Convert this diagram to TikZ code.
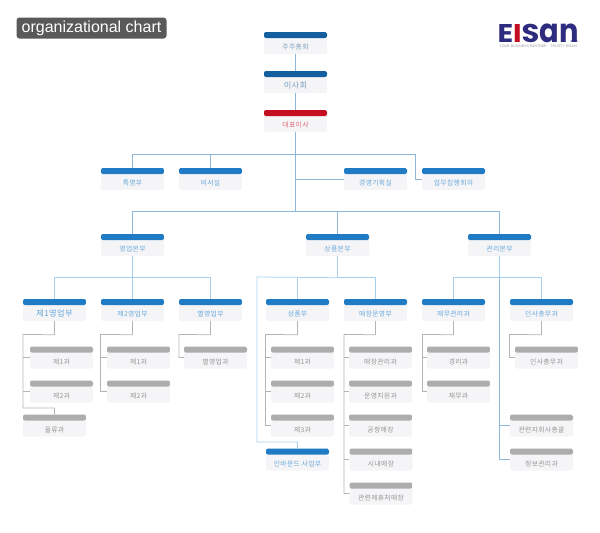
\documentclass[tikz,border=0pt]{standalone}
\usepackage{fontspec}
\setmainfont{Liberation Sans}
\newfontfamily\kr[LetterSpace=5]{Noto Sans CJK KR}
\newfontfamily\logofont{Poppins}
\usetikzlibrary{calc}
\definecolor{hblue}{HTML}{1F7CC4}
\definecolor{hdark}{HTML}{135E9F}
\definecolor{hred}{HTML}{C40F22}
\definecolor{hgrey}{HTML}{ADADAD}
\definecolor{bodyc}{HTML}{F5F5F7}
\definecolor{tblue}{HTML}{6AA8DA}
\definecolor{tdark}{HTML}{7A9FC0}
\definecolor{tred}{HTML}{E0687A}
\definecolor{tgrey}{HTML}{969696}
\definecolor{lblue}{HTML}{8DB6DA}
\definecolor{llight}{HTML}{A5CFEE}
\definecolor{lgrey}{HTML}{B4B4B4}
\definecolor{navy}{HTML}{2E2C7E}
\newcommand{\lift}[1]{\raisebox{-6.5pt}[0pt][0pt]{#1}}
\newcommand{\txs}{\fontsize{6.8}{7}\kr}
\newcommand{\txb}{\fontsize{8.2}{9}\kr}
\tikzset{
  x=1pt,y=-1pt,
  orgbox/.style={rounded corners=2pt,minimum width=63pt,minimum height=22pt,inner sep=0pt,fill=bodyc,draw=none,text=#1},
  headfill/.style={path picture={\fill[#1] (path picture bounding box.north west) rectangle ([yshift=-6pt]path picture bounding box.north east);}},
  bluebox/.style={orgbox=tblue,headfill=hblue},
  darkbox/.style={orgbox=tdark,headfill=hdark},
  redbox/.style={orgbox=tred,headfill=hred},
  greybox/.style={orgbox=tgrey,headfill=hgrey},
  linkA/.style={draw=lblue,line width=.75pt},
  linkB/.style={draw=llight,line width=.75pt},
  linkG/.style={draw=lgrey,line width=.75pt},
}
\begin{document}
\begin{tikzpicture}
\useasboundingbox (0,0) rectangle (600,533);
% title
\node[fill=black!65,rounded corners=3pt,minimum width=150pt,minimum height=21pt,inner sep=0pt,text=white,font=\fontsize{16}{17}\selectfont] (title) at (91.5,28) {organizational chart};
% logo
\node[inner sep=0pt,text=navy] (logo) at (538,33.3) {\resizebox{81pt}{18.6pt}{\logofont\bfseries E\textcolor{hred}{I}S\scalebox{1}[1.28]{an}}};
\node[inner sep=0pt,text=tgrey,font=\fontsize{3.6}{4}\selectfont] (tag) at (538,46.5) {YOUR BUSINESS PARTNER\quad TRUSTY EISAN};
\node[inner sep=0pt,text=navy,font=\fontsize{3.2}{3.5}\bfseries\selectfont] (year) at (574,41) {1995};
% top
\node[darkbox] (a1) at (295.5,43) {\lift{\txs 주주총회}};
\node[darkbox] (a2) at (295.5,82) {\lift{\txb 이사회}};
\node[redbox] (a3) at (295.5,121) {\lift{\txs 대표이사}};
\node[bluebox] (b1) at (132.5,179) {\lift{\txs 특명부}};
\node[bluebox] (b2) at (210.5,179) {\lift{\txs 비서실}};
\node[bluebox] (b3) at (375.5,179) {\lift{\txs 경영기획실}};
\node[bluebox] (b4) at (453.5,179) {\lift{\txs 업무집행회의}};
% divisions
\node[bluebox] (c1) at (132.5,245) {\lift{\txs 영업본부}};
\node[bluebox] (c2) at (337.5,245) {\lift{\txs 상품본부}};
\node[bluebox] (c3) at (499.5,245) {\lift{\txs 관리본부}};
% departments
\node[bluebox] (d1) at (54.5,310) {\lift{\txb 제1영업부}};
\node[bluebox] (d2) at (132.5,310) {\lift{\txs 제2영업부}};
\node[bluebox] (d3) at (210.5,310) {\lift{\txs 별영업부}};
\node[bluebox] (d4) at (297.5,310) {\lift{\txs 상품부}};
\node[bluebox] (d5) at (375.5,310) {\lift{\txs 매장운영부}};
\node[bluebox] (d6) at (453.5,310) {\lift{\txs 재무관리과}};
\node[bluebox] (d7) at (541.5,310) {\lift{\txs 인사총무과}};
\node[bluebox] (d8) at (297.5,459.5) {\lift{\txs 인바운드 사업부}};
% sections
\node[greybox] (e1) at (61.5,357.5) {\lift{\txs 제1과}};
\node[greybox] (e2) at (61.5,391.5) {\lift{\txs 제2과}};
\node[greybox] (e3) at (54.5,425.5) {\lift{\txs 물류과}};
\node[greybox] (f1) at (138.5,357.5) {\lift{\txs 제1과}};
\node[greybox] (f2) at (138.5,391.5) {\lift{\txs 제2과}};
\node[greybox] (g1) at (215.5,357.5) {\lift{\txs 별영업과}};
\node[greybox] (h1) at (302.5,357.5) {\lift{\txs 제1과}};
\node[greybox] (h2) at (302.5,391.5) {\lift{\txs 제2과}};
\node[greybox] (h3) at (302.5,425.5) {\lift{\txs 제3과}};
\node[greybox] (i1) at (380.5,357.5) {\lift{\txs 매장관리과}};
\node[greybox] (i2) at (380.5,391.5) {\lift{\txs 운영지원과}};
\node[greybox] (i3) at (380.5,425.5) {\lift{\txs 공항매장}};
\node[greybox] (i4) at (381,459.5) {\lift{\txs 시내매장}};
\node[greybox] (i5) at (381,493.5) {\lift{\txs 관련제휴처매장}};
\node[greybox] (j1) at (458.5,357.5) {\lift{\txs 경리과}};
\node[greybox] (j2) at (458.5,391.5) {\lift{\txs 재무과}};
\node[greybox] (k1) at (546.5,357.5) {\lift{\txs 인사총무과}};
\node[greybox] (k2) at (541.5,425.5) {\lift{\txs 관련자회사총괄}};
\node[greybox] (k3) at (541.5,459.5) {\lift{\txs 정보관리과}};
% top connectors
\coordinate (busB) at (295.5,154);
\coordinate (busC) at (295.5,211);
\draw[linkA] (a1.south) -- (a2.north);
\draw[linkA] (a2.south) -- (a3.north);
\draw[linkA] (a3.south) -- (busC);
\draw[linkA] (b1.north) |- (busB);
\draw[linkA] (b2.north) -- (b2.north |- busB);
\draw[linkA] (busB) -- (415,154) -- (415,179) -- (b4.west);
\draw[linkA] (295.5,179) -- (b3.west);
\draw[linkA] (c1.north) |- (busC);
\draw[linkA] (c3.north) |- (busC);
\draw[linkA] (c2.north) -- (c2.north |- busC);
% level 2
\draw[linkB] (c1.south) -- ++(0,21.5) coordinate (s1);
\draw[linkB] (d1.north) |- (s1);
\draw[linkB] (d3.north) |- (s1);
\draw[linkB] (d2.north) -- (s1);
\draw[linkB] (c2.south) -- ++(0,21.5) coordinate (s2);
\draw[linkB] (d5.north) |- (s2);
\draw[linkB] (d4.north) -- (d4.north |- s2);
\draw[linkB] (s2) -- (257,277) -- (257,442) -- (297.5,442) -- (d8.north);
\draw[linkB] (c3.south) -- ++(0,21.5) coordinate (s3);
\draw[linkB] (d6.north) |- (s3);
\draw[linkB] (d7.north) |- (s3);
\draw[linkA] (s3) -- (499.5,459.5) -- (k3.west);
\draw[linkA] (499.5,425.5) -- (k2.west);
% section trunks
\draw[linkG] (d1.south) -- ++(0,13.5) -- (23,334.5) -- (23,408) -- (54.5,408) -- (e3.north);
\draw[linkG] (23,357.5) -- (e1.west);
\draw[linkG] (23,391.5) -- (e2.west);
\draw[linkG] (d2.south) -- ++(0,13.5) -- (100.5,334.5) -- (100.5,391.5) -- (f2.west);
\draw[linkG] (100.5,357.5) -- (f1.west);
\draw[linkG] (d3.south) -- ++(0,13.5) -- (179,334.5) -- (179,357.5) -- (g1.west);
\draw[linkG] (d4.south) -- ++(0,13.5) -- (265.5,334.5) -- (265.5,425.5) -- (h3.west);
\draw[linkG] (265.5,357.5) -- (h1.west);
\draw[linkG] (265.5,391.5) -- (h2.west);
\draw[linkG] (d5.south) -- ++(0,13.5) -- (344,334.5) -- (344,493.5) -- (i5.west);
\draw[linkG] (344,357.5) -- (i1.west);
\draw[linkG] (344,391.5) -- (i2.west);
\draw[linkG] (344,425.5) -- (i3.west);
\draw[linkG] (344,459.5) -- (i4.west);
\draw[linkG] (d6.south) -- ++(0,13.5) -- (422.5,334.5) -- (422.5,391.5) -- (j2.west);
\draw[linkG] (422.5,357.5) -- (j1.west);
\draw[linkG] (d7.south) -- ++(0,13.5) -- (509.5,334.5) -- (509.5,357.5) -- (k1.west);
\end{tikzpicture}
\end{document}
